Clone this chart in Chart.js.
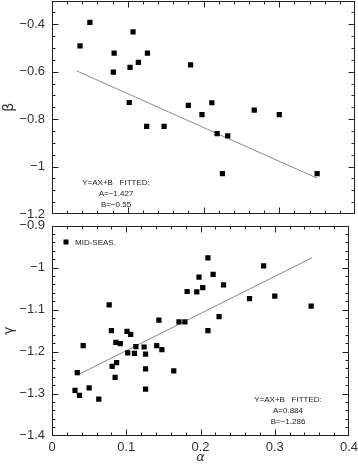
<!DOCTYPE html>
<html><head><meta charset="utf-8">
<script src="https://cdn.jsdelivr.net/npm/chart.js@4.4.0/dist/chart.umd.min.js"></script>
<style>
html,body{margin:0;padding:0;background:#fff;width:358px;height:464px;overflow:hidden}
.box{position:absolute;left:0}
</style></head><body>
<div class="box" style="top:0;width:358px;height:222px"><canvas id="c1" width="358" height="222"></canvas></div>
<div class="box" style="top:220px;width:358px;height:244px"><canvas id="c2" width="358" height="244"></canvas></div>
<script>
// ---- data ----
const alphaTicks = [0, 0.1, 0.2, 0.3, 0.4];
const betaTicks = [-1.2, -1, -0.8, -0.6, -0.4];
const gammaTicks = [-1.4, -1.3, -1.2, -1.1, -1, -0.9];

const betaAlpha = [0.037,0.050,0.107,0.082,0.126,0.114,0.103,0.081,0.102,0.125,0.148,0.183,0.180,0.211,0.198,0.267,0.300,0.218,0.232,0.225,0.350];
const betaValues = [-0.491,-0.392,-0.432,-0.522,-0.522,-0.561,-0.582,-0.602,-0.730,-0.831,-0.831,-0.571,-0.742,-0.731,-0.781,-0.762,-0.781,-0.861,-0.871,-1.030,-1.030];
const betaFitAlpha = [0.032, 0.350];
const betaFitValues = [-0.596, -1.049];
const betaFitText = ["Y=AX+B   FITTED:", "A=\u22121.427", "B=\u22120.55"];

const gammaAlpha = [0.077,0.080,0.101,0.106,0.086,0.092,0.042,0.102,0.113,0.124,0.111,0.126,0.081,0.087,0.085,0.126,0.034,0.126,0.050,0.031,0.037,0.063,0.144,0.141,0.148,0.164,0.171,0.179,0.182,0.198,0.195,0.203,0.210,0.217,0.231,0.210,0.225,0.266,0.285,0.300,0.349];
const gammaValues = [-1.089,-1.150,-1.152,-1.159,-1.178,-1.181,-1.186,-1.203,-1.188,-1.189,-1.204,-1.206,-1.235,-1.226,-1.261,-1.241,-1.250,-1.289,-1.286,-1.292,-1.304,-1.313,-1.125,-1.186,-1.195,-1.246,-1.129,-1.129,-1.057,-1.023,-1.058,-1.048,-0.977,-1.016,-1.041,-1.150,-1.117,-1.074,-0.996,-1.068,-1.092];
const gammaFitAlpha = [0.034, 0.350];
const gammaFitValues = [-1.256, -0.977];
const gammaFitText = ["Y=AX+B   FITTED:", "A=0.884", "B=\u22121.286"];
const seriesLabel = "MID-SEAS.";

// ---- helpers ----
const pts = (xs, ys) => xs.map((x, i) => ({x, y: ys[i]}));
const fmt = v => String(Math.round(v * 1000) / 1000).replace('-', '\u2212');
const TICK_FONT = {family: "'Liberation Sans', Arial, sans-serif", size: 13};
const INK = '#222';

function framePlugin(o) {
  return {
    id: 'frame',
    afterDatasetsDraw(chart) {
      const {ctx, chartArea: a, scales: {x, y}} = chart;
      ctx.save();
      ctx.strokeStyle = INK;
      ctx.lineWidth = 1;
      const L = Math.round(a.left) + 0.5, R = Math.round(a.right) - 0.5;
      const T = Math.round(a.top) + 0.5, B = Math.round(a.bottom) - 0.5;
      ctx.strokeRect(L, T, R - L, B - T);
      ctx.beginPath();
      const isMaj = (v, m) => Math.abs(v / m - Math.round(v / m)) < 1e-6;
      const nx = Math.round((x.max - x.min) / o.xMinor);
      for (let i = 1; i < nx; i++) {
        const v = x.min + i * o.xMinor;
        const p = Math.round(x.getPixelForValue(v)) + 0.5;
        const len = isMaj(v, o.xMajor) ? 6 : 3;
        ctx.moveTo(p, B); ctx.lineTo(p, B - len);
        ctx.moveTo(p, T); ctx.lineTo(p, T + len);
      }
      const ny = Math.round((y.max - y.min) / o.yMinor);
      for (let i = 1; i < ny; i++) {
        const v = y.min + i * o.yMinor;
        const p = Math.round(y.getPixelForValue(v)) + 0.5;
        const len = isMaj(v, o.yMajor) ? 6 : 3;
        ctx.moveTo(L, p); ctx.lineTo(L + len, p);
        ctx.moveTo(R, p); ctx.lineTo(R - len, p);
      }
      ctx.stroke();
      // annotation text
      ctx.fillStyle = INK;
      ctx.font = "8px 'Liberation Sans', Arial, sans-serif";
      ctx.textAlign = 'center';
      ctx.textBaseline = 'middle';
      o.text.forEach((t, i) => ctx.fillText(t, o.textX, o.textY + i * 11));
      if (o.legend) {
        ctx.fillStyle = '#000';
        ctx.fillRect(o.legend.x - 2.5, o.legend.y - 2.5, 5, 5);
        ctx.fillStyle = INK;
        ctx.textAlign = 'left';
        ctx.fillText(o.legend.text, o.legend.x + 9, o.legend.y + 0.5);
      }
      ctx.restore();
    }
  };
}

function makeChart(id, o) {
  return new Chart(document.getElementById(id), {
    type: 'scatter',
    data: {
      datasets: [
        {label: seriesLabel, data: pts(o.xs, o.ys), pointStyle: 'rect', pointRadius: 3.7,
         pointHoverRadius: 3.7, backgroundColor: '#000', borderWidth: 0},
        {label: 'fit', data: pts(o.fx, o.fy), showLine: true, pointRadius: 0,
         borderColor: '#8c8c8c', borderWidth: 1, fill: false}
      ]
    },
    options: {
      responsive: false, animation: false, events: [],
      layout: {padding: o.padding, autoPadding: false},
      plugins: {legend: {display: false}, tooltip: {enabled: false}},
      scales: {
        x: {
          type: 'linear', min: 0, max: 0.4, display: o.showX,
          grid: {display: false, drawTicks: false}, border: {display: false},
          afterBuildTicks: s => { s.ticks = alphaTicks.map(v => ({value: v})); },
          ticks: {font: TICK_FONT, color: '#333', padding: 4, maxRotation: 0, callback: v => fmt(v)},
          title: {display: o.showX, text: '\u03b1', color: '#333',
                  font: {family: "'DejaVu Sans', sans-serif", size: 13, style: 'italic', lineHeight: 1},
                  padding: {top: 0, bottom: 0}},
          afterFit: s => { if (o.showX) s.height = o.xHeight; s.paddingLeft = 0; s.paddingRight = 0; }
        },
        y: {
          type: 'linear', min: o.yMin, max: o.yMax,
          grid: {display: false, drawTicks: false}, border: {display: false},
          afterBuildTicks: s => { s.ticks = o.yTicks.map(v => ({value: v})); },
          ticks: {font: TICK_FONT, color: '#333', padding: 7, callback: v => fmt(v)},
          title: {display: true, text: o.yTitle, color: '#333',
                  font: {family: "'DejaVu Sans', sans-serif", size: 14, lineHeight: 1},
                  padding: {top: 2, bottom: 0}},
          afterFit: s => { s.width = 52; s.paddingTop = 0; s.paddingBottom = 0; }
        }
      }
    },
    plugins: [framePlugin(o.frame)]
  });
}

makeChart('c1', {
  xs: betaAlpha, ys: betaValues, fx: betaFitAlpha, fy: betaFitValues,
  yMin: -1.2, yMax: -0.3, yTicks: betaTicks, yTitle: '\u03b2', showX: false,
  padding: {left: 0, top: 0.5, right: 3, bottom: 8},
  frame: {xMinor: 0.02, xMajor: 0.1, yMinor: 0.05, yMajor: 0.2,
          text: betaFitText, textX: 116, textY: 183}
});

makeChart('c2', {
  xs: gammaAlpha, ys: gammaValues, fx: gammaFitAlpha, fy: gammaFitValues,
  yMin: -1.4, yMax: -0.9, yTicks: gammaTicks, yTitle: '\u03b3', showX: true, xHeight: 28.3,
  padding: {left: 0, top: 5.5, right: 9, bottom: 0},
  frame: {xMinor: 0.02, xMajor: 0.1, yMinor: 0.02, yMajor: 0.1,
          text: gammaFitText, textX: 288, textY: 180,
          legend: {x: 66, y: 22, text: seriesLabel}}
});
</script>
</body></html>
